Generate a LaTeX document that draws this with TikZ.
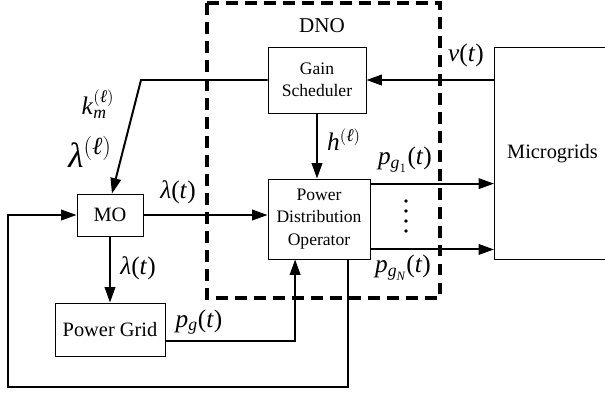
\documentclass[tikz,border=0pt]{standalone}
\usepackage{amsmath}
\usepackage{fontspec}
\setmainfont{Liberation Serif}
\usetikzlibrary{arrows.meta, positioning}

\tikzset{
  blk/.style={draw, line width=0.6pt, align=center, inner sep=0pt,
    font=\fontsize{12.5}{16}\selectfont},
  bigblk/.style={blk, font=\fontsize{14.5}{17}\selectfont},
  sig/.style={line width=1.4pt, -{Triangle[length=11pt, width=7.5pt]}},
  lbl/.style={inner sep=0pt, font=\fontsize{18}{20}\selectfont},
  dnobox/.style={line width=2.2pt, dash pattern=on 8.5pt off 5pt}
}
\newcommand{\iv}[1]{\textit{#1}}

\begin{document}
\begin{tikzpicture}[x=0.025cm, y=-0.025cm]
    \useasboundingbox (0,0) rectangle (605,397);

    % DNO frame
    \draw[dnobox] (207,3) rectangle (440,298);
    \node[inner sep=0pt, font=\fontsize{15}{17}\selectfont] (dno) at (322,26) {DNO};

    % Blocks
    \node[blk, minimum width=2.45cm, minimum height=1.65cm] (gs) at (317,80) {Gain\\Scheduler};
    \node[blk, minimum width=2.55cm, minimum height=2.0cm] (pdo) at (319,219) {Power\\Distribution\\Operator};
    \node[bigblk, minimum width=1.65cm, minimum height=1.05cm] (mo) at (110,215) {MO};
    \node[bigblk, minimum width=2.75cm, minimum height=1.325cm] (pg) at (110,329.5) {Power Grid};
    \node[bigblk, anchor=north west, minimum width=2.9cm, minimum height=5.3cm] (mg) at (494,47) {Microgrids};

    % Helper points
    \coordinate (bend) at (141,80);
    \coordinate (g1) at ([yshift=-3.6pt]pdo.north east);
    \coordinate (gN) at ([yshift=7.1pt]pdo.south east);
    \coordinate (pgout) at ([yshift=-8.5pt]pg.east);
    \coordinate (pgin) at ([xshift=-17pt]pdo.south);
    \coordinate (fbout) at ([xshift=20.6pt]pdo.south);
    \coordinate (fbcorner) at (8,387);

    % Connectors
    \draw[sig] (gs.east -| mg.west) -- (gs.east);
    \draw[sig] (gs.west) -- (bend) -- ([xshift=1.4pt]mo.north);
    \draw[sig] (gs.south) -- (gs.south |- pdo.north);
    \draw[sig] (mo.east) -- (mo.east -| pdo.west);
    \draw[sig] (mo.south) -- (pg.north);
    \draw[sig] (pgout) -| (pgin);
    \draw[sig] (g1) -- (g1 -| mg.west);
    \draw[sig] (gN) -- (gN -| mg.west);
    \draw[sig] (fbout) |- (fbcorner) |- (mo.west);

    % Dots between outputs
    \foreach \yy in {201,211,221,231}
      \fill (406,\yy) circle (1.9);

    % Labels
    \node[lbl] (lv) at (466,55) {\iv{v}(\iv{t})};
    \node[lbl] (lh) at (344,140) {\iv{h}$^{(\iv{ℓ})}$};
    \node[lbl] (lg1) at (405,160) {\iv{p}$_{\iv{g}_{1}}$(\iv{t})};
    \node[lbl] (lgN) at (403,268) {\iv{p}$_{\iv{g}_{\iv{N}}}$(\iv{t})};
    \node[lbl] (lk) at (98,104) {\iv{k}$_{\iv{m}}^{(\iv{ℓ})}$};
    \node[lbl, font=\fontsize{25}{27}\selectfont] (llam) at (90,152) {\iv{λ}$^{(\iv{ℓ})}$};
    \node[lbl] (lmo) at (178,192) {\iv{λ}(\iv{t})};
    \node[lbl] (lmd) at (138,268) {\iv{λ}(\iv{t})};
    \node[lbl] (lpg) at (199,322) {\iv{p}$_{\iv{g}}$(\iv{t})};
\end{tikzpicture}
\end{document}
